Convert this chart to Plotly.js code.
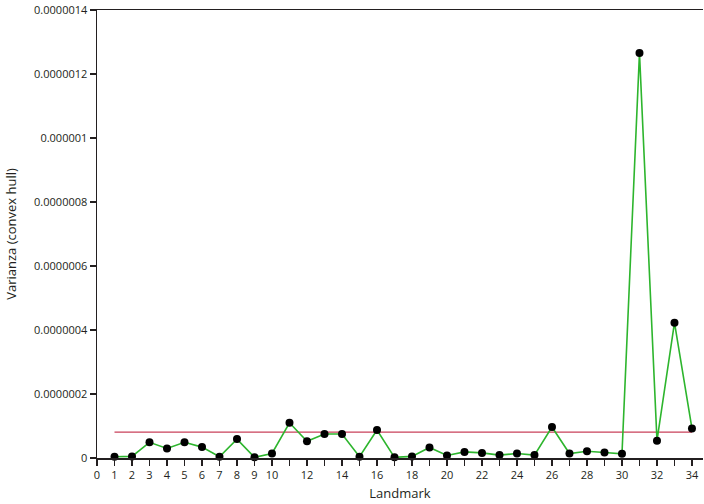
<!DOCTYPE html>
<html>
<head>
<meta charset="utf-8">
<script src="https://cdn.plot.ly/plotly-3.0.1.min.js"></script>
<style>html,body{margin:0;padding:0;background:#fff;}#chart{width:704px;height:504px;}</style>
</head>
<body>
<div id="chart"></div>
<script>
var landmarks = [1,2,3,4,5,6,7,8,9,10,11,12,13,14,15,16,17,18,19,20,21,22,23,24,25,26,27,28,29,30,31,32,33,34];
var varianza = [4e-9,5e-9,4.9e-8,3.0e-8,4.9e-8,3.4e-8,4e-9,5.9e-8,2e-9,1.4e-8,1.10e-7,5.2e-8,7.5e-8,7.5e-8,4e-9,8.75e-8,2e-9,5e-9,3.3e-8,8e-9,1.9e-8,1.6e-8,9e-9,1.4e-8,9e-9,9.7e-8,1.4e-8,2.1e-8,1.7e-8,1.3e-8,1.266e-6,5.4e-8,4.23e-7,9.2e-8];
var meanLevel = 8.1e-8;
var meanX = [1, 34];
var xTickVals = [0,1,2,3,4,5,6,7,8,9,10,11,12,13,14,15,16,17,18,19,20,21,22,23,24,25,26,27,28,29,30,31,32,33,34];
var xTickText = ["0","1","2","3","4","5","6","7","8","9","10","","12","","14","","16","","18","","20","","22","","24","","26","","28","","30","","32","","34"];
var yTickVals = [0,2e-7,4e-7,6e-7,8e-7,1e-6,1.2e-6,1.4e-6];
var yTickText = ["0","0.0000002","0.0000004","0.0000006","0.0000008","0.000001","0.0000012","0.0000014"];

var font = {family: "Open Sans, Arial, sans-serif", size: 11, color: "#231f20"};
var traces = [
  {x: meanX, y: [meanLevel, meanLevel], mode: "lines", line: {color: "#c9405a", width: 1.2}, hoverinfo: "skip", cliponaxis: false},
  {x: landmarks, y: varianza, mode: "lines+markers", line: {color: "#2db52d", width: 1.6},
   marker: {color: "#000", size: 8}, cliponaxis: false}
];
var layout = {
  width: 704, height: 504,
  margin: {l: 97, r: 1, t: 10, b: 46},
  paper_bgcolor: "#fff", plot_bgcolor: "#fff",
  showlegend: false,
  font: font,
  xaxis: {range: [0, 34.63], tickvals: xTickVals, ticktext: xTickText, ticks: "outside", ticklen: 6, tickwidth: 1.2, tickcolor: "#231f20",
          showline: true, linecolor: "#231f20", linewidth: 1.5, mirror: true, showgrid: false, zeroline: false,
          title: {text: "Landmark", font: {family: font.family, size: 13, color: "#231f20"}, standoff: 8}, tickfont: font},
  yaxis: {range: [0, 1.4e-6], tickvals: yTickVals, ticktext: yTickText, ticks: "outside", ticklen: 6, tickwidth: 1.2, tickcolor: "#231f20",
          showline: true, linecolor: "#231f20", linewidth: 1.5, showgrid: false, zeroline: false,
          title: {text: "Varianza (convex hull)", font: {family: font.family, size: 13, color: "#231f20"}, standoff: 14}, tickfont: font}
};
Plotly.newPlot("chart", traces, layout, {displayModeBar: false, staticPlot: true});
</script>
</body>
</html>
